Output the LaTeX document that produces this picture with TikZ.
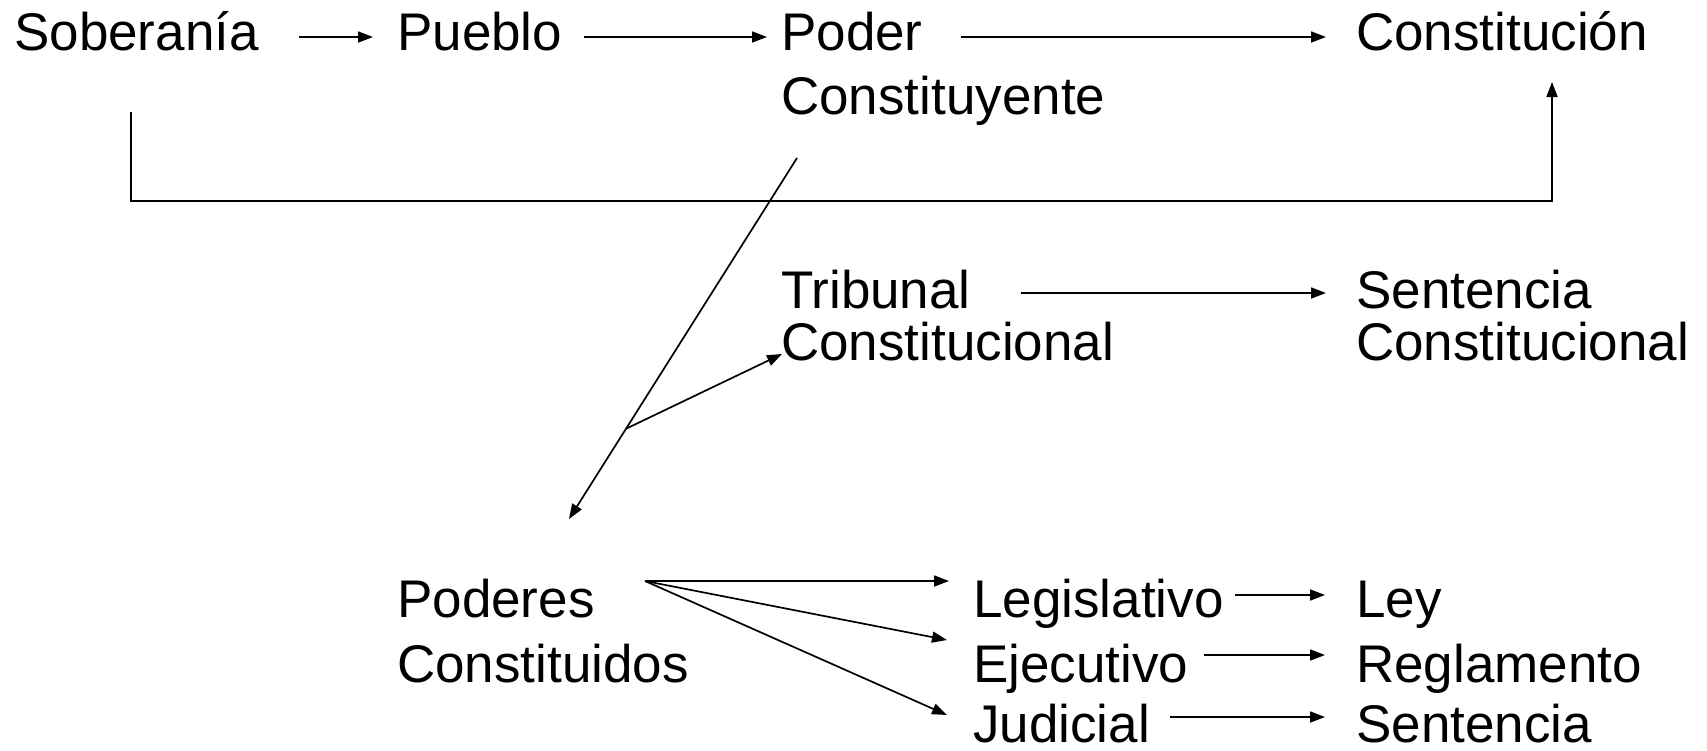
\documentclass[tikz,border=0pt]{standalone}
\usepackage{fontspec}
\setmainfont{Liberation Sans}
\usetikzlibrary{arrows.meta,calc}
\begin{document}
\begin{tikzpicture}[x=1pt,y=1pt,
  txt/.style={font=\fontsize{53}{63}\selectfont, inner sep=0pt, anchor=base west},
  arr/.style={line width=1.7pt, -{Triangle[length=15pt,width=11pt]}}]
\useasboundingbox (0,0) rectangle (1707,-750);
% texts
\node[txt] (sob) at (14,-50) {Soberanía};
\node[txt] (pue) at (397,-50) {Pueblo};
\node[txt] (pod) at (781,-50) {Poder};
\node[txt] (podb) at (781,-114) {Constituyente};
\node[txt] (con) at (1356,-50) {Constitución};
\node[txt] (tri) at (781,-308) {Tribunal};
\node[txt] (trib) at (781,-360) {Constitucional};
\node[txt] (sen) at (1356,-308) {Sentencia};
\node[txt] (senb) at (1356,-360) {Constitucional};
\node[txt] (pdc) at (397,-617) {Poderes};
\node[txt] (pdcb) at (397,-682) {Constituidos};
\node[txt] (leg) at (973,-617) {Legislativo};
\node[txt] (eje) at (973,-682) {Ejecutivo};
\node[txt] (jud) at (973,-742) {Judicial};
\node[txt] (ley) at (1356,-617) {Ley};
\node[txt] (reg) at (1356,-682) {Reglamento};
\node[txt] (sjd) at (1356,-742) {Sentencia};
% top row
\draw[arr] ([shift={(40,13)}]sob.base east) -- ([shift={(-24,13)}]pue.base west);
\draw[arr] ([shift={(22,13)}]pue.base east) -- ([shift={(-14,13)}]pod.base west);
\draw[arr] ([shift={(38,13)}]pod.base east) -- ([shift={(-30,13)}]con.base west);
% loop
\coordinate (lpA) at ([shift={(117,-62)}]sob.base west);
\coordinate (lpT) at ([shift={(196,-32)}]con.base west);
\draw[arr] (lpA) -- ++(0,-89) -| (lpT);
% diagonal to poderes constituidos
\coordinate (dgA) at ([shift={(16,-44)}]podb.base west);
\coordinate (dgB) at ([shift={(172,98)}]pdc.base west);
\draw[arr] (dgA) -- (dgB);
\coordinate (dgM) at ($(dgA)!0.75!(dgB)$);
\draw[arr] (dgM) -- ([shift={(1,6)}]trib.base west);
% tribunal
\draw[arr] ([shift={(50,15)}]tri.base east) -- ([shift={(-30,15)}]sen.base west);
% fan
\coordinate (fan) at ([shift={(248,36)}]pdc.base west);
\draw[arr] (fan) -- ([shift={(-24,36)}]leg.base west);
\draw[arr] (fan) -- ([shift={(-26,42)}]eje.base west);
\draw[arr] (fan) -- ([shift={(-26,27)}]jud.base west);
% lower row
\draw[arr] ([shift={(11,22)}]leg.base east) -- ([shift={(-31,22)}]ley.base west);
\draw[arr] ([shift={(16,27)}]eje.base east) -- ([shift={(-31,27)}]reg.base west);
\draw[arr] ([shift={(20,25)}]jud.base east) -- ([shift={(-31,25)}]sjd.base west);
\end{tikzpicture}
\end{document}
